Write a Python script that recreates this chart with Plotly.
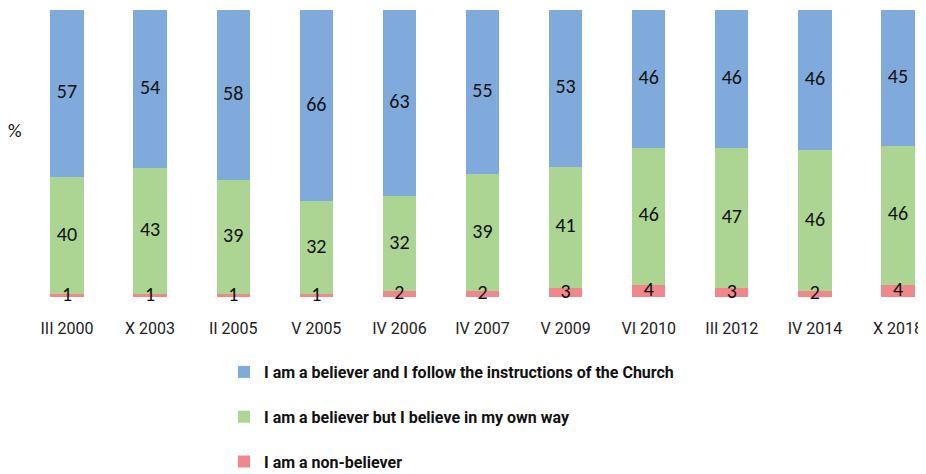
import plotly.graph_objects as go

categories = ["III 2000", "X 2003", "II 2005", "V 2005", "IV 2006", "IV 2007",
              "V 2009", "VI 2010", "III 2012", "IV 2014", "X 2018"]
non_believer = [1, 1, 1, 1, 2, 2, 3, 4, 3, 2, 4]
own_way = [40, 43, 39, 32, 32, 39, 41, 46, 47, 46, 46]
follow_church = [57, 54, 58, 66, 63, 55, 53, 46, 46, 46, 45]

names = ["I am a non-believer",
         "I am a believer but I believe in my own way",
         "I am a believer and I follow the instructions of the Church"]
colors = ["#f0878b", "#acd593", "#80aadb"]

OFF = 8  # page body margin
W, H = 926 - OFF, 474 - OFF
L, R, T, B = 20 - OFF, 6, 10 - OFF, 177

series = [non_believer, own_way, follow_church]
totals = [sum(t) for t in zip(*series)]

fig = go.Figure()
base = [0] * len(categories)
for i, (vals, name, col) in enumerate(zip(series, names, colors)):
    fig.add_trace(go.Bar(
        x=categories, y=vals, name=name, marker=dict(color=col, line=dict(width=0)),
        width=0.4, legendgroup=name, legendrank=3 - i, hoverinfo="skip"))
    mids = [(b + v / 2) / t * 100 for b, v, t in zip(base, vals, totals)]
    fig.add_trace(go.Scatter(
        x=categories, y=mids, mode="text", text=[str(v) for v in vals],
        textfont=dict(family="Carlito, Liberation Sans, Arial", size=20, color="#111111"),
        showlegend=False, hoverinfo="skip", cliponaxis=False))
    base = [b + v for b, v in zip(base, vals)]

plot_w = W - L - R
plot_h = H - T - B
plot_bottom = H - B
# x range so category 0 sits at screen px 67 and category 10 at px 898
pxu = (898 - 67) / 10
x0 = -((67 - OFF) - L) / pxu
x1 = x0 + plot_w / pxu

fig.update_layout(
    width=W, height=H, barmode="stack", barnorm="percent",
    margin=dict(l=L, r=R, t=T, b=B, pad=0, autoexpand=False),
    plot_bgcolor="white", paper_bgcolor="white",
    xaxis=dict(range=[x0, x1], showgrid=False, zeroline=False, showline=False,
               ticks="", ticklabelstandoff=20, automargin=False,
               tickfont=dict(family="Roboto", size=16, color="#222222")),
    yaxis=dict(range=[0, 100], visible=False, automargin=False),
    legend=dict(orientation="v", traceorder="grouped", tracegroupgap=21,
                x=((224 - OFF) - L) / plot_w, xanchor="left",
                y=-((355 - OFF) - plot_bottom) / plot_h, yanchor="top",
                font=dict(family="Roboto", size=16, color="#111111", weight="bold"),
                itemclick=False, itemdoubleclick=False),
    annotations=[dict(text="%", xref="paper", yref="paper",
                      x=((15 - OFF) - L) / plot_w, y=(plot_bottom - (130 - OFF)) / plot_h,
                      showarrow=False, xanchor="center", yanchor="middle",
                      font=dict(family="Carlito, Liberation Sans, Arial", size=19, color="#111111"))],
)

fig.write_html("out.html")
